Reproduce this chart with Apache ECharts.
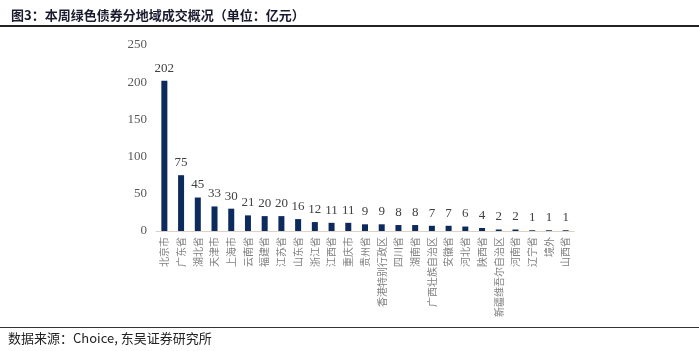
<!DOCTYPE html>
<html>
<head>
<meta charset="utf-8">
<script src="https://cdn.jsdelivr.net/npm/echarts@6/dist/echarts.min.js"></script>
<style>
  html, body { margin: 0; padding: 0; background: #fff; }
  #chart { width: 699px; height: 351px; }
</style>
</head>
<body>
<div id="chart"></div>
<script>
var regions = ['北京市', '广东省', '湖北省', '天津市', '上海市', '云南省', '福建省', '江苏省', '山东省',
  '浙江省', '江西省', '重庆市', '贵州省', '香港特别行政区', '四川省', '湖南省', '广西壮族自治区',
  '安徽省', '河北省', '陕西省', '新疆维吾尔自治区', '河南省', '辽宁省', '境外', '山西省'];
var amounts = [202, 75, 45, 33, 30, 21, 20, 20, 16, 12, 11, 11, 9, 9, 8, 8, 7, 7, 6, 4, 2, 2, 1, 1, 1];

var dom = document.getElementById('chart');
var myChart = echarts.init(dom);

var option = {
  backgroundColor: '#fff',
  animation: false,
  title: {
    text: '图3：本周绿色债券分地域成交概况（单位：亿元）',
    left: 6,
    top: 4,
    textStyle: {
      color: '#1a1a2e',
      fontSize: 13,
      fontWeight: 'bold',
      fontFamily: 'Noto Sans CJK SC'
    }
  },
  graphic: [
    // 标题下粗线
    { type: 'rect', shape: { x: 0, y: 25, width: 699, height: 2 }, style: { fill: '#222' } },
    // 底部细线
    { type: 'rect', shape: { x: 0, y: 327, width: 699, height: 1 }, style: { fill: '#333' } },
    {
      type: 'text', left: 8, top: 332,
      style: {
        text: '数据来源：Choice, 东吴证券研究所',
        fill: '#222',
        fontSize: 13,
        fontFamily: 'Noto Sans CJK SC'
      }
    }
  ],
  grid: {
    left: 156,
    right: 125,
    top: 45,
    bottom: 120
  },
  xAxis: {
    type: 'category',
    data: regions,
    axisLine: { lineStyle: { color: '#d9d2c5' } },
    axisTick: { show: false },
    axisLabel: {
      rotate: 90,
      interval: 0,
      color: '#808080',
      fontSize: 10,
      margin: 6,
      fontFamily: 'Noto Sans CJK SC'
    }
  },
  yAxis: {
    type: 'value',
    min: 0,
    max: 250,
    interval: 50,
    axisLine: { show: false },
    axisTick: { show: false },
    splitLine: { show: false },
    axisLabel: {
      color: '#595959',
      fontSize: 13,
      margin: 9,
      fontFamily: 'Liberation Serif'
    }
  },
  series: [
    {
      name: '成交',
      type: 'bar',
      barWidth: 6,
      itemStyle: { color: '#0c2a5c' },
      label: {
        show: true,
        position: 'top',
        distance: 6,
        color: '#404040',
        fontSize: 13,
        fontFamily: 'Liberation Serif'
      },
      data: amounts
    }
  ]
};

myChart.setOption(option, true);
</script>
</body>
</html>
